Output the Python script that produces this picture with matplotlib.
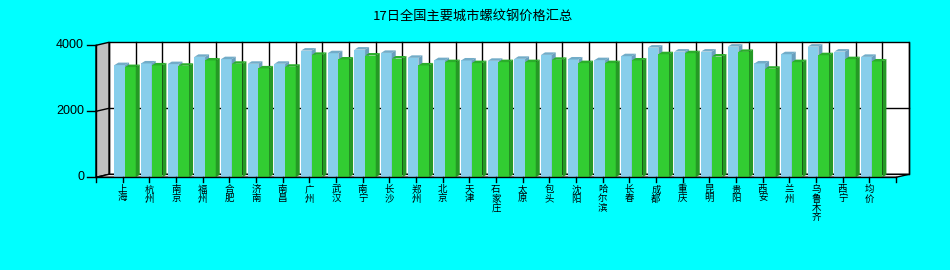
import matplotlib
matplotlib.use('Agg')
import matplotlib.pyplot as plt
from matplotlib.patches import Polygon, Rectangle

plt.rcParams['font.family'] = ['Noto Sans CJK SC', 'DejaVu Sans']

# data
cities = ['上海', '杭州', '南京', '福州', '合肥', '济南', '南昌', '广州', '武汉', '南宁',
          '长沙', '郑州', '北京', '天津', '石家庄', '太原', '包头', '沈阳', '哈尔滨', '长春',
          '成都', '重庆', '昆明', '贵阳', '西安', '兰州', '乌鲁木齐', '西宁', '均价']
blue_vals = [3400, 3450, 3430, 3650, 3580, 3440, 3440, 3840, 3760, 3870,
             3770, 3620, 3550, 3540, 3530, 3590, 3710, 3570, 3550, 3670,
             3930, 3810, 3810, 3960, 3450, 3730, 3960, 3810, 3650]
green_vals = [3340, 3390, 3380, 3540, 3440, 3300, 3350, 3710, 3570, 3690,
              3600, 3390, 3490, 3460, 3490, 3490, 3560, 3460, 3460, 3540,
              3730, 3760, 3660, 3800, 3290, 3490, 3700, 3580, 3510]
yticks = [0, 2000, 4000]
title = '17日全国主要城市螺纹钢价格汇总'

W, H = 950, 270
fig = plt.figure(figsize=(W / 100, H / 100), dpi=100, facecolor='#00ffff')
# front plane of the 3d box
x0, x1, ytop, ybot = 96, 896, 45.3, 177.3
ax = fig.add_axes([x0 / W, (H - ybot) / H, (x1 - x0) / W, (ybot - ytop) / H])
ax.set_xlim(-1, 29)
ax.set_ylim(0, 4000)
ax.set_facecolor('none')
for s in ax.spines.values():
    s.set_visible(False)

# pixel -> data unit helpers
ux = 30 / (x1 - x0)
uy = 4000 / (ybot - ytop)
DX, DY = 13 * ux, 3 * uy        # wall depth
bx, by = 4 * ux, 2.5 * uy       # bar depth

# back wall + grid
ax.add_patch(Rectangle((-1 + DX, DY), 30, 4000, facecolor='white', edgecolor='black',
                       lw=1, zorder=0, clip_on=False))
for k in range(-1, 30):
    ax.plot([k + DX, k + DX], [DY, 4000 + DY], color='black', lw=1, zorder=0.5, clip_on=False)
for v in yticks[1:-1]:
    ax.plot([-1 + DX, 29 + DX], [v + DY, v + DY], color='black', lw=1, zorder=0.5, clip_on=False)
# left wall
ax.add_patch(Polygon([(-1, 0), (-1 + DX, DY), (-1 + DX, 4000 + DY), (-1, 4000)],
                     facecolor='#c0c0c0', edgecolor='black', lw=1, zorder=1, clip_on=False))
for v in yticks[1:-1]:
    ax.plot([-1, -1 + DX], [v, v + DY], color='black', lw=1, zorder=1.1, clip_on=False)
# floor
ax.add_patch(Polygon([(-1, 0), (29, 0), (29 + DX, DY), (-1 + DX, DY)],
                     facecolor='#e8e8e8', edgecolor='black', lw=1, zorder=1, clip_on=False))

bw = 0.4


def bar3d(x, v, front, top, side):
    ax.bar(x, v, width=bw, align='edge', color=front, lw=0, zorder=2, clip_on=False)
    ax.add_patch(Polygon([(x, v), (x + bw, v), (x + bw + bx, v + by), (x + bx, v + by)],
                         facecolor=top, lw=0, zorder=2, clip_on=False))
    ax.add_patch(Polygon([(x + bw, 0), (x + bw + bx, by), (x + bw + bx, v + by), (x + bw, v)],
                         facecolor=side, lw=0, zorder=2, clip_on=False))


for i in range(len(cities)):
    bar3d(i - 0.31, blue_vals[i], '#87ceeb', '#72acc8', '#6a9fbd')
    bar3d(i + 0.09, green_vals[i], '#32cd32', '#2aae2a', '#259a25')

# front axis lines
ax.plot([-1, -1], [0, 4000], color='black', lw=1, clip_on=False, zorder=3)
ax.plot([-1, 29], [0, 0], color='black', lw=1, clip_on=False, zorder=3)

# y ticks
for v in yticks:
    ax.plot([-1 - 9 * ux, -1], [v, v], color='black', lw=1, clip_on=False, zorder=3)
    ax.text(-1 - 12 * ux, v, str(v), ha='right', va='center', fontsize=9,
            family=['Liberation Sans', 'DejaVu Sans'])
# x ticks
for k in range(-1, 30):
    ax.plot([k, k], [0, -5 * uy], color='black', lw=1, clip_on=False, zorder=3)
for i, c in enumerate(cities):
    ax.text(i, -8 * uy, '\n'.join(c), ha='center', va='top', fontsize=6.8,
            linespacing=1.0)

ax.set_xticks([])
ax.set_yticks([])

fig.text(473 / W, 1 - 16 / H, title, ha='center', va='center', fontsize=9.5)

fig.savefig('out.png', dpi=100, facecolor=fig.get_facecolor())
